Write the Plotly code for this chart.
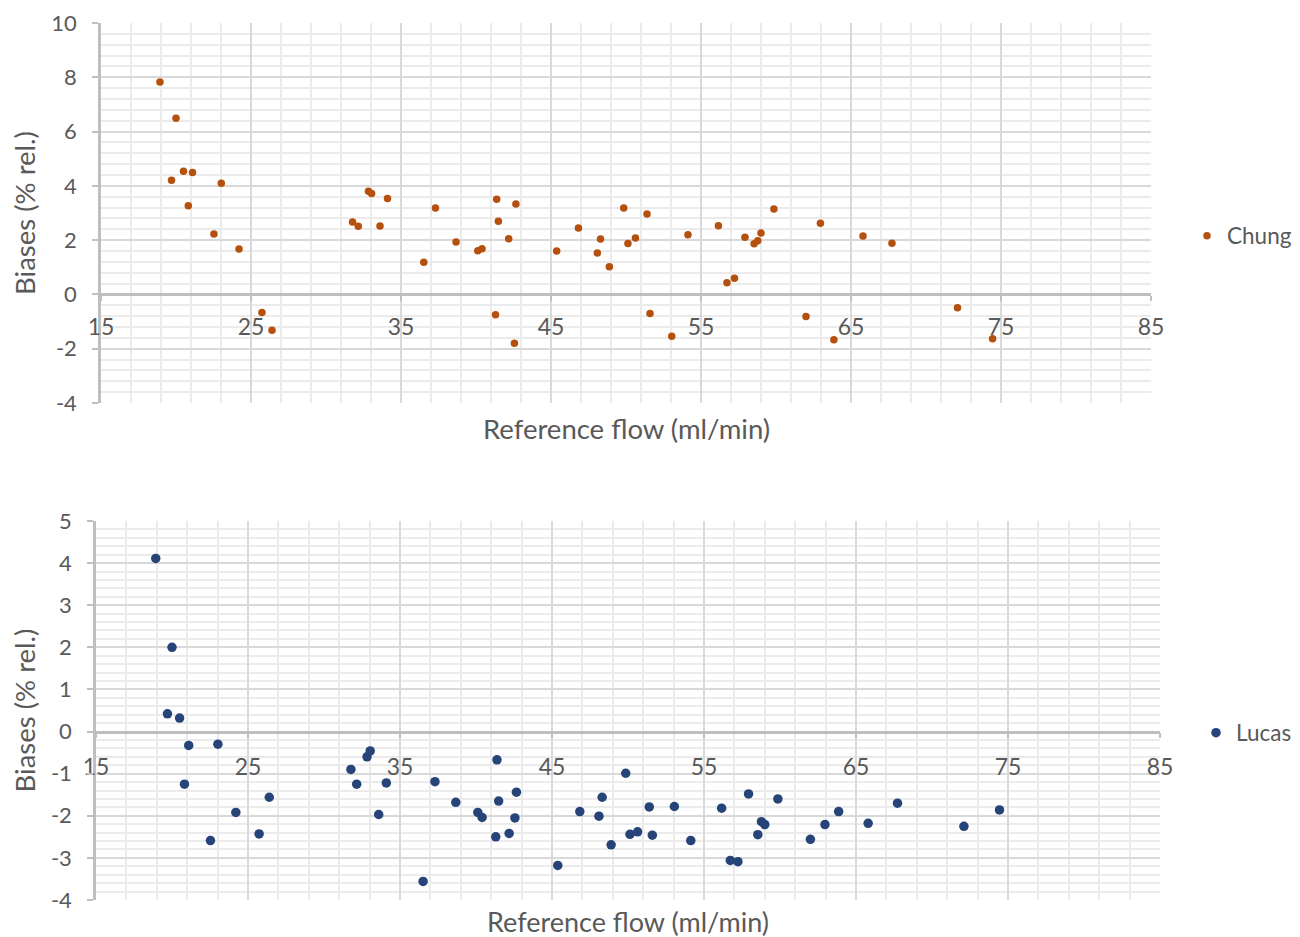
import plotly.graph_objects as go

# Shared reference flows (ml/min)
flow = [18.93, 20.0, 19.7, 20.5, 21.1, 20.82, 23.02, 22.53, 24.2, 25.73, 26.4,
        31.77, 32.15, 32.83, 33.04, 33.6, 34.1, 36.52, 37.3, 38.67, 40.12, 40.4,
        41.38, 41.49, 42.18, 42.66, 41.3, 42.56, 45.38, 46.83, 48.09, 48.3, 48.89,
        49.85, 50.13, 50.63, 51.4, 51.6, 53.05, 54.13, 56.16, 56.73, 57.23, 57.93,
        58.54, 58.78, 59.0, 59.86, 62.0, 62.96, 63.86, 65.8, 67.73, 72.1, 74.44]

chung_bias = [7.83, 6.49, 4.21, 4.54, 4.49, 3.27, 4.10, 2.23, 1.67, -0.67, -1.32,
              2.67, 2.51, 3.80, 3.72, 2.52, 3.53, 1.19, 3.18, 1.93, 1.61, 1.68,
              3.51, 2.70, 2.05, 3.33, -0.75, -1.80, 1.60, 2.45, 1.53, 2.04, 1.02,
              3.18, 1.88, 2.08, 2.96, -0.70, -1.54, 2.20, 2.53, 0.43, 0.60, 2.11,
              1.87, 1.98, 2.26, 3.15, -0.81, 2.62, -1.67, 2.15, 1.89, -0.49, -1.63]

lucas_bias = [4.11, 2.0, 0.42, 0.32, -0.33, -1.25, -0.30, -2.59, -1.92, -2.43, -1.56,
              -0.90, -1.25, -0.60, -0.46, -1.97, -1.22, -3.56, -1.19, -1.68, -1.92, -2.04,
              -0.67, -1.65, -2.42, -1.44, -2.50, -2.05, -3.18, -1.90, -2.01, -1.56, -2.69,
              -0.99, -2.44, -2.38, -1.79, -2.46, -1.78, -2.59, -1.82, -3.06, -3.09, -1.48,
              -2.45, -2.14, -2.21, -1.60, -2.56, -2.21, -1.90, -2.18, -1.70, -2.25, -1.86]

x_range = [15, 85]
top_y_range = [-4, 10]
bot_y_range = [-4, 5]
top_y_ticks = [-4, -2, 0, 2, 4, 6, 8, 10]
top_y_labels = ["-4", "-2", "0", "2", "4", "6", "8", "10"]
bot_y_ticks = [-4, -3, -2, -1, 0, 1, 2, 3, 4, 5]
bot_y_labels = ["-4", "-3", "-2", "-1", "0", "1", "2", "3", "4", "5"]

# The page places the figure 8px from the window's top-left corner.
OFF = 8
W, H = 1300 - OFF, 937 - OFF
FONT = "Lato, Carlito, Calibri, sans-serif"
TXT = "#595959"
MAJOR = "#D9D9D9"
MINOR = "#EBEBEB"
AXIS = "#BFBFBF"


def fx(px):
    return (px - OFF) / W


def fy(py):
    return 1 - (py - OFF) / H


# plot area domains (paper fractions), from window pixel positions
top_x = [fx(101), fx(1151)]
top_yd = [fy(403), fy(23)]
bot_x = [fx(96), fx(1160)]
bot_yd = [fy(900), fy(521)]


def zero_pos(dom, rng):
    return dom[0] + (0 - rng[0]) / (rng[1] - rng[0]) * (dom[1] - dom[0])


fig = go.Figure()
fig.add_trace(go.Scatter(x=flow, y=chung_bias, mode="markers", name="Chung",
                         marker=dict(color="#B5500E", size=7.5), showlegend=True,
                         xaxis="x", yaxis="y", legend="legend"))
fig.add_trace(go.Scatter(x=flow, y=lucas_bias, mode="markers", name="Lucas",
                         marker=dict(color="#264478", size=9.5), showlegend=True,
                         xaxis="x2", yaxis="y2", legend="legend2"))

common_x = dict(range=x_range, tick0=15, dtick=10, showgrid=True, gridcolor=MAJOR,
                gridwidth=1.5, minor=dict(dtick=2, tick0=15, showgrid=True,
                                          gridcolor=MINOR, gridwidth=1.5),
                showline=True, linecolor=AXIS, linewidth=2.5, ticks="outside",
                ticklen=5, tickcolor=AXIS, tickwidth=1.5, zeroline=False,
                tickfont=dict(family=FONT, size=23, color=TXT), anchor="free",
                automargin=False)
common_y = dict(showgrid=True, gridcolor=MAJOR, gridwidth=1.5, showline=True,
                linecolor=AXIS, linewidth=2.5, ticks="outside", ticklen=6,
                tickcolor=AXIS, tickwidth=1.5, zeroline=False, automargin=False,
                ticklabelstandoff=11,
                tickfont=dict(family=FONT, size=22, color=TXT),
                title=dict(text="Biases (% rel.)", font=dict(family=FONT, size=27.5, color=TXT),
                           standoff=8))

fig.update_layout(
    width=W, height=H, margin=dict(l=0, r=0, t=0, b=0, autoexpand=False),
    paper_bgcolor="white", plot_bgcolor="white", hovermode=False, showlegend=True,
    xaxis=dict(common_x, domain=top_x, position=zero_pos(top_yd, top_y_range),
               ticklabelstandoff=6),
    yaxis=dict(common_y, domain=top_yd, range=top_y_range, tickvals=top_y_ticks,
               ticktext=top_y_labels,
               minor=dict(dtick=0.4, tick0=0, showgrid=True, gridcolor=MINOR, gridwidth=1.5),
               anchor="x"),
    xaxis2=dict(common_x, domain=bot_x, position=zero_pos(bot_yd, bot_y_range),
                ticklabelstandoff=9),
    yaxis2=dict(common_y, domain=bot_yd, range=bot_y_range, tickvals=bot_y_ticks,
                ticktext=bot_y_labels,
                minor=dict(dtick=0.2, tick0=0, showgrid=True, gridcolor=MINOR, gridwidth=1.5),
                anchor="x2"),
    legend=dict(x=fx(1187), y=fy(236), xanchor="left", yanchor="middle",
                font=dict(family=FONT, size=22.5, color=TXT), bgcolor="rgba(0,0,0,0)",
                borderwidth=0, itemwidth=30),
    legend2=dict(x=fx(1196), y=fy(733), xanchor="left", yanchor="middle",
                 font=dict(family=FONT, size=22.5, color=TXT), bgcolor="rgba(0,0,0,0)",
                 borderwidth=0, itemwidth=30),
    annotations=[
        dict(text="Reference flow (ml/min)", xref="paper", yref="paper",
             x=(top_x[0] + top_x[1]) / 2, y=fy(428), showarrow=False,
             font=dict(family=FONT, size=27.5, color=TXT), xanchor="center", yanchor="middle"),
        dict(text="Reference flow (ml/min)", xref="paper", yref="paper",
             x=(bot_x[0] + bot_x[1]) / 2, y=fy(921), showarrow=False,
             font=dict(family=FONT, size=27, color=TXT), xanchor="center", yanchor="middle"),
    ],
)

fig.write_html("out.html")
